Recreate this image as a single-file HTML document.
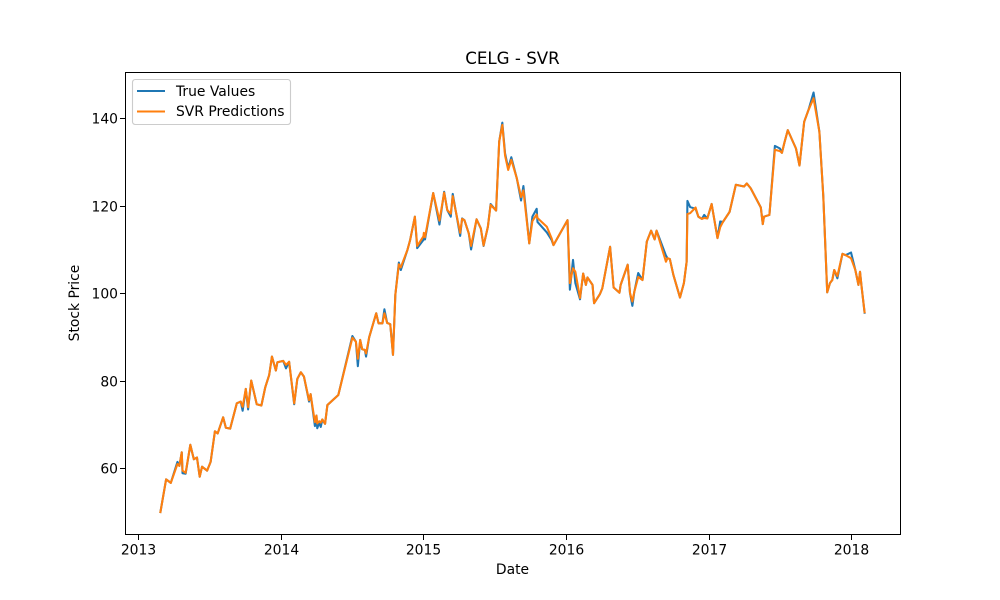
<!DOCTYPE html>
<html lang="en">
<head>
<meta charset="utf-8">
<title>CELG - SVR</title>
<style>
html,body{margin:0;padding:0;background:#fff;}
svg{display:block;}
text{font-family:"DejaVu Sans","Liberation Sans",sans-serif;fill:#000;}
</style>
</head>
<body>
<svg id="chart" xmlns="http://www.w3.org/2000/svg" width="1000" height="600" viewBox="0 0 1000 600">
  <rect x="0" y="0" width="1000" height="600" fill="#fff"/>
  <rect x="125" y="72" width="775" height="462" fill="#fff"/>
  <g id="series"></g>
  <g id="x-axis"></g>
  <g id="y-axis"></g>
  <rect x="125.5" y="72.5" width="775" height="462" fill="none" stroke="#000" stroke-width="1.11" shape-rendering="crispEdges"/>
  <text x="512.5" y="64" font-size="16.67" text-anchor="middle">CELG - SVR</text>
  <text x="512.5" y="574" font-size="13.89" text-anchor="middle">Date</text>
  <text x="0" y="0" font-size="13.89" text-anchor="middle" transform="translate(79,303) rotate(-90)">Stock Price</text>
  <g>
    <rect x="132.5" y="79.5" width="158" height="45" rx="2.8" ry="2.8" fill="#fff" fill-opacity="0.8" stroke="#ccc" stroke-width="1.11"/>
    <line x1="137" y1="91" x2="165" y2="91" stroke="#1f77b4" stroke-width="2.08"/>
    <text x="176" y="96" font-size="13.89">True Values</text>
    <line x1="137" y1="111.5" x2="165" y2="111.5" stroke="#ff7f0e" stroke-width="2.08"/>
    <text x="176" y="116" font-size="13.89">SVR Predictions</text>
  </g>
</svg>
<script>
// Observation dates, in days since 2013-01-01
const dayOffsets = [57,72,84,101,106,112,114,122,134,143,151,158,164,177,186,197,204,218,225,236,253,263,268,276,282,290,304,316,326,336,343,353,357,372,379,387,400,408,417,425,438,442,453,457,459,464,468,472,479,485,513,549,558,563,569,574,581,584,592,610,616,626,631,638,646,653,659,668,673,690,697,709,715,731,732,735,756,772,784,792,801,806,825,830,836,847,853,867,878,885,896,903,917,925,933,940,948,956,970,981,987,1002,1010,1021,1023,1047,1059,1064,1100,1106,1114,1120,1132,1140,1147,1151,1164,1168,1183,1189,1209,1218,1233,1236,1254,1260,1266,1271,1281,1292,1303,1314,1323,1328,1352,1356,1362,1371,1388,1398,1405,1407,1414,1428,1435,1444,1450,1458,1469,1484,1491,1498,1515,1531,1552,1559,1569,1595,1600,1603,1617,1631,1644,1649,1655,1664,1685,1694,1706,1717,1730,1745,1755,1765,1772,1778,1783,1791,1804,1812,1826,1837,1845,1849,1853,1861];
const trueValues = [49.7,57.4,56.6,61.4,60.5,63.6,58.8,58.7,65.3,62.0,62.4,58.0,60.3,59.4,61.4,68.4,67.9,71.6,69.2,69.0,74.8,75.2,73.1,78.1,73.4,80.0,74.6,74.3,78.5,81.3,85.5,82.3,84.2,84.5,82.8,84.3,74.6,80.4,81.9,80.9,75.2,76.9,69.6,72.0,69.1,70.4,69.4,71.1,70.1,74.4,76.7,90.2,88.9,83.3,89.3,87.2,87.0,85.5,89.9,95.4,93.1,93.1,96.3,93.2,92.9,85.9,99.6,107.0,105.3,109.9,112.2,117.5,110.3,112.2,112.6,112.3,122.9,115.7,123.2,119.0,117.5,122.7,113.1,117.1,116.7,113.7,110.0,116.9,114.8,110.8,115.2,120.4,118.9,134.7,139.0,132.0,128.6,131.1,126.3,121.2,124.5,111.4,117.5,119.3,116.3,113.9,112.2,111.0,116.7,100.8,107.6,102.3,98.6,104.5,101.9,103.6,101.9,97.7,99.8,101.1,110.6,101.3,100.1,101.9,106.5,100.0,97.1,100.3,104.6,103.0,111.8,114.3,112.3,114.3,108.6,108.0,107.8,104.2,99.0,102.3,107.2,121.1,119.7,119.3,117.5,117.0,117.9,117.1,120.4,112.6,116.4,116.3,118.6,124.8,124.4,125.1,124.0,119.6,115.8,117.5,117.9,133.7,133.1,132.1,134.3,137.3,133.1,129.2,139.2,141.9,145.9,136.9,122.1,100.2,102.3,103.0,105.3,103.4,109.0,108.7,109.3,105.3,101.9,104.9,101.5,95.3];
const predValues = [49.7,57.4,56.6,60.9,60.5,63.6,59.4,58.9,65.3,62.0,62.4,58.0,60.3,59.4,61.4,68.4,67.9,71.6,69.2,69.0,74.8,75.2,74.0,78.1,73.9,80.0,74.6,74.3,78.5,81.3,85.5,82.3,84.2,84.5,83.6,84.3,74.8,80.4,81.9,80.9,75.5,76.9,70.5,72.0,70.2,70.7,70.4,71.1,70.1,74.4,76.7,89.8,88.9,85.0,89.3,87.2,87.0,86.2,89.9,95.4,93.1,93.1,95.4,93.2,92.9,85.9,99.6,106.6,105.9,109.9,112.2,117.5,110.8,113.0,113.8,112.8,122.9,116.6,123.0,119.0,118.2,122.2,113.8,117.0,116.7,113.7,110.8,116.9,114.8,110.9,115.2,120.2,118.9,134.7,138.5,131.5,128.2,130.5,126.3,122.0,123.5,111.4,116.5,118.0,117.2,115.2,112.6,111.0,116.7,102.3,105.7,104.9,98.9,104.5,101.9,103.6,101.9,97.7,99.8,101.1,110.6,101.3,100.1,101.9,106.5,100.0,98.1,100.3,103.7,103.0,111.8,114.3,112.3,114.3,107.2,108.0,107.8,104.2,99.0,102.3,107.2,118.1,118.3,119.6,117.5,117.0,117.2,117.1,120.4,112.6,115.1,116.3,118.6,124.8,124.4,125.1,124.0,119.6,115.8,117.5,117.9,132.8,132.5,132.1,134.3,137.3,133.1,129.2,139.2,141.9,144.6,136.9,122.1,100.2,102.3,103.0,105.3,103.9,109.0,108.7,108.0,105.3,101.9,104.9,101.5,95.4];
const xTickYears = [2013,2014,2015,2016,2017,2018];
const yTickValues = [60,80,100,120,140];

const SVG_NS = 'http://www.w3.org/2000/svg';
const plotLeft = 125, plotRight = 900, plotTop = 72, plotBottom = 534;
const xDomain = [-33.3, 1951.4];
const yDomain = [44.9, 150.6];

function xScale(d) {
  return plotLeft + (d - xDomain[0]) / (xDomain[1] - xDomain[0]) * (plotRight - plotLeft);
}
function yScale(v) {
  return plotBottom - (v - yDomain[0]) / (yDomain[1] - yDomain[0]) * (plotBottom - plotTop);
}
function yearToOffset(year) {
  return (Date.UTC(year, 0, 1) - Date.UTC(2013, 0, 1)) / 86400000;
}
function linePath(values) {
  return values.map(function (v, i) {
    return (i ? 'L' : 'M') + xScale(dayOffsets[i]).toFixed(2) + ' ' + yScale(v).toFixed(2);
  }).join(' ');
}

const seriesLayer = document.getElementById('series');

const trueLine = document.createElementNS(SVG_NS, 'path');


trueLine.setAttribute('d', linePath(trueValues));
trueLine.setAttribute('fill', 'none');
trueLine.setAttribute('stroke', '#1f77b4');
trueLine.setAttribute('stroke-width', '2.08');
trueLine.setAttribute('stroke-linejoin', 'round');
seriesLayer.appendChild(trueLine);

const predLine = document.createElementNS(SVG_NS, 'path');


predLine.setAttribute('d', linePath(predValues));
predLine.setAttribute('fill', 'none');
predLine.setAttribute('stroke', '#ff7f0e');
predLine.setAttribute('stroke-width', '2.08');
predLine.setAttribute('stroke-linejoin', 'round');
seriesLayer.appendChild(predLine);

const xAxis = document.getElementById('x-axis');
xTickYears.forEach(function (year) {
  const x = Math.round(xScale(yearToOffset(year))) + 0.5;
  const tick = document.createElementNS(SVG_NS, 'line');
  
  
  tick.setAttribute('x1', x);
  tick.setAttribute('x2', x);
  tick.setAttribute('y1', plotBottom);
  tick.setAttribute('y2', plotBottom + 5.86);
  tick.setAttribute('stroke', '#000');
  tick.setAttribute('stroke-width', '1.11');
  tick.setAttribute('shape-rendering', 'crispEdges');
  xAxis.appendChild(tick);
  const label = document.createElementNS(SVG_NS, 'text');
  
  
  label.setAttribute('x', x);
  label.setAttribute('y', plotBottom + 20.5);
  label.setAttribute('font-size', '13.89');
  label.setAttribute('text-anchor', 'middle');
  label.textContent = String(year);
  xAxis.appendChild(label);
});

const yAxis = document.getElementById('y-axis');
yTickValues.forEach(function (value) {
  const y = Math.round(yScale(value)) + 0.5;
  const tick = document.createElementNS(SVG_NS, 'line');
  
  
  tick.setAttribute('x1', plotLeft - 4.86);
  tick.setAttribute('x2', plotLeft + 0.5);
  tick.setAttribute('y1', y);
  tick.setAttribute('y2', y);
  tick.setAttribute('stroke', '#000');
  tick.setAttribute('stroke-width', '1.11');
  tick.setAttribute('shape-rendering', 'crispEdges');
  yAxis.appendChild(tick);
  const label = document.createElementNS(SVG_NS, 'text');
  
  
  label.setAttribute('x', plotLeft - 7);
  label.setAttribute('y', y + 5);
  label.setAttribute('font-size', '13.89');
  label.setAttribute('text-anchor', 'end');
  label.textContent = String(value);
  yAxis.appendChild(label);
});
</script>
</body>
</html>
